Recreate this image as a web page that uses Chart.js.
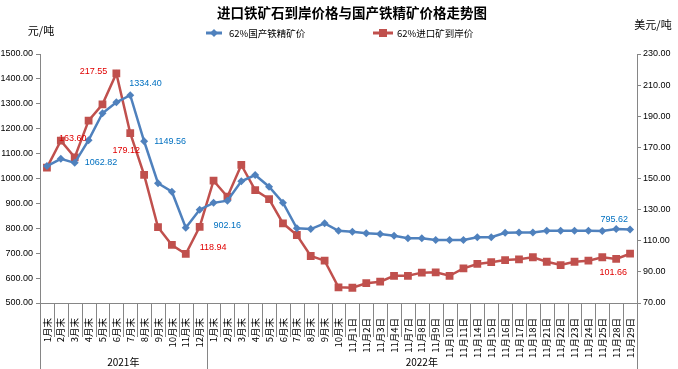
<!DOCTYPE html>
<html>
<head>
<meta charset="utf-8">
<script src="https://cdn.jsdelivr.net/npm/chart.js@4"></script>
<style>
    body { margin: 0; background: #fff; }
    #wrap { width: 678px; height: 369px; position: relative; }
</style>
</head>
<body>
<div id="wrap"><canvas id="priceChart"></canvas></div>
<script>
// Category labels
const labels2021 = ["1月末", "2月末", "3月末", "4月末", "5月末", "6月末", "7月末", "8月末", "9月末", "10月末", "11月末", "12月末"];
const labels2022 = ["1月末", "2月末", "3月末", "4月末", "5月末", "6月末", "7月末", "8月末", "9月末", "10月末",
    "11月1日", "11月2日", "11月3日", "11月4日", "11月7日", "11月8日", "11月9日", "11月10日", "11月11日", "11月14日",
    "11月15日", "11月16日", "11月17日", "11月18日", "11月21日", "11月22日", "11月23日", "11月24日", "11月25日", "11月28日", "11月29日"];
const yearLabels = ["2021年", "2022年"];

// 62%国产铁精矿价 (元/吨, left axis)
const domesticPrice = [1050, 1079, 1062.82, 1154, 1262, 1306, 1334.40, 1149.56, 981, 947, 802, 875,
    902.16, 911, 989, 1014, 967, 903, 800, 797, 820, 790,
    786, 780, 777, 770, 760, 760, 753, 753, 753, 764, 764, 782, 783, 783, 790, 790, 790, 790, 789, 797, 795.62];

// 62%进口矿到岸价 (美元/吨, right axis)
const importPrice = [157, 174.3, 163.60, 187.2, 197.7, 217.55, 179.12, 152.3, 118.7, 107.3, 101.5, 118.94,
    148.6, 138.3, 158.7, 142.6, 136.8, 121.2, 113.7, 100.2, 97.2, 80.1,
    79.8, 82.7, 83.7, 87.5, 87.5, 89.5, 89.7, 87.5, 92.3, 95.1, 96.2, 97.6, 98.1, 99.4, 96.5, 94.4, 96.5, 97.2, 99.4, 98.3, 101.66];

const leftTicks = [500, 600, 700, 800, 900, 1000, 1100, 1200, 1300, 1400, 1500];
const rightTicks = [70, 90, 110, 130, 150, 170, 190, 210, 230];

const categories = labels2021.concat(labels2022);

const BLUE = "#4F81BD";
const RED = "#C0504D";
const AXIS = "#868686";
const numFont = "'Liberation Sans', Arial, sans-serif";
const cjkFont = "'Noto Sans CJK SC', sans-serif";

// value labels drawn next to some points
const pointNotes = [
    { ds: 0, i: 2, dx: 10, dy: 0, align: "left" },
    { ds: 0, i: 6, dx: -1, dy: -12, align: "left" },
    { ds: 0, i: 7, dx: 10, dy: 0, align: "left" },
    { ds: 0, i: 12, dx: 0, dy: 23, align: "left" },
    { ds: 0, i: 42, dx: -2, dy: -10, align: "right" },
    { ds: 1, i: 2, dx: -2, dy: -19, align: "center" },
    { ds: 1, i: 5, dx: -9, dy: -2, align: "right" },
    { ds: 1, i: 6, dx: -4, dy: 17, align: "center" },
    { ds: 1, i: 11, dx: 0, dy: 21, align: "left" },
    { ds: 1, i: 42, dx: -3, dy: 19, align: "right" }
];

const decorPlugin = {
    id: "decor",
    afterDraw(chart) {
        const ctx = chart.ctx;
        const area = chart.chartArea;
        const n = categories.length;
        const step = (area.right - area.left) / n;

        ctx.save();
        // category separators below the axis
        ctx.strokeStyle = AXIS;
        ctx.lineWidth = 1;
        for (let k = 0; k <= n; k++) {
            const px = Math.round(area.left + k * step) + 0.5;
            const isYear = (k === 0 || k === labels2021.length || k === n);
            ctx.beginPath();
            ctx.moveTo(px, area.bottom);
            ctx.lineTo(px, isYear ? chart.height : area.bottom + 34);
            ctx.stroke();
        }

        // year labels
        ctx.fillStyle = "#000";
        ctx.font = "10px " + cjkFont;
        ctx.textAlign = "center";
        ctx.textBaseline = "middle";
        const split = area.left + labels2021.length * step;
        ctx.fillText(yearLabels[0], (area.left + split) / 2, 362);
        ctx.fillText(yearLabels[1], (split + area.right) / 2, 362);

        // title
        ctx.font = "bold 13.5px " + cjkFont;
        ctx.fillText("进口铁矿石到岸价格与国产铁精矿价格走势图", 352, 13);

        // axis titles
        ctx.font = "11px " + cjkFont;
        ctx.fillText("元/吨", 41, 31);
        ctx.fillText("美元/吨", 653, 25);

        // legend
        ctx.lineWidth = 3;
        ctx.strokeStyle = BLUE;
        ctx.beginPath(); ctx.moveTo(206, 33); ctx.lineTo(222, 33); ctx.stroke();
        ctx.fillStyle = BLUE;
        ctx.beginPath();
        ctx.moveTo(214, 29); ctx.lineTo(218, 33); ctx.lineTo(214, 37); ctx.lineTo(210, 33);
        ctx.closePath(); ctx.fill();
        ctx.strokeStyle = RED;
        ctx.beginPath(); ctx.moveTo(373, 33); ctx.lineTo(393, 33); ctx.stroke();
        ctx.fillStyle = RED;
        ctx.fillRect(379, 29, 8, 8);

        ctx.fillStyle = "#000";
        ctx.font = "9.5px " + cjkFont;
        ctx.textAlign = "left";
        ctx.fillText("62%国产铁精矿价", 229, 33);
        ctx.fillText("62%进口矿到岸价", 397, 33);

        // point value labels
        ctx.font = "9px " + numFont;
        pointNotes.forEach(note => {
            const pt = chart.getDatasetMeta(note.ds).data[note.i];
            const value = chart.data.datasets[note.ds].data[note.i];
            ctx.fillStyle = note.ds === 0 ? "#0070C0" : "#E00000";
            ctx.textAlign = note.align;
            ctx.fillText(value.toFixed(2), pt.x + note.dx, pt.y + note.dy);
        });
        ctx.restore();
    }
};

const ctx = document.getElementById("priceChart").getContext("2d");
new Chart(ctx, {
    type: "line",
    data: {
        labels: categories,
        datasets: [
            {
                label: "62%国产铁精矿价",
                data: domesticPrice,
                yAxisID: "y",
                borderColor: BLUE,
                backgroundColor: BLUE,
                borderWidth: 2.5,
                pointStyle: "rectRot",
                pointRadius: 4,
                pointBorderWidth: 0,
                tension: 0
            },
            {
                label: "62%进口矿到岸价",
                data: importPrice,
                yAxisID: "y1",
                borderColor: RED,
                backgroundColor: RED,
                borderWidth: 2.5,
                pointStyle: "rect",
                pointRadius: 5.5,
                pointBorderWidth: 0,
                tension: 0
            }
        ]
    },
    options: {
        responsive: true,
        maintainAspectRatio: false,
        animation: false,
        layout: { padding: { top: 54, left: 0, right: 0, bottom: 0 } },
        plugins: {
            legend: { display: false },
            tooltip: { enabled: false },
            title: { display: false }
        },
        scales: {
            x: {
                offset: true,
                grid: { display: false },
                border: { color: AXIS },
                afterFit: (scale) => { scale.height = 66; },
                ticks: {
                    autoSkip: false,
                    maxRotation: 90,
                    minRotation: 90,
                    padding: 7,
                    color: "#000",
                    font: { family: cjkFont, size: 9.5 }
                }
            },
            y: {
                position: "left",
                min: 500,
                max: 1500,
                afterFit: (scale) => { scale.width = 40; },
                afterBuildTicks: (scale) => { scale.ticks = leftTicks.map(v => ({ value: v })); },
                grid: { drawOnChartArea: false, tickLength: 4, color: AXIS },
                border: { color: AXIS },
                ticks: {
                    padding: 3,
                    color: "#000",
                    font: { family: numFont, size: 9 },
                    callback: (v) => v.toFixed(2)
                }
            },
            y1: {
                position: "right",
                min: 70,
                max: 230,
                afterFit: (scale) => { scale.width = 41; },
                afterBuildTicks: (scale) => { scale.ticks = rightTicks.map(v => ({ value: v })); },
                grid: { drawOnChartArea: false, tickLength: 4, color: AXIS },
                border: { color: AXIS },
                ticks: {
                    padding: 2,
                    color: "#000",
                    font: { family: numFont, size: 9 },
                    callback: (v) => v.toFixed(2)
                }
            }
        }
    },
    plugins: [decorPlugin]
});
</script>
</body>
</html>
